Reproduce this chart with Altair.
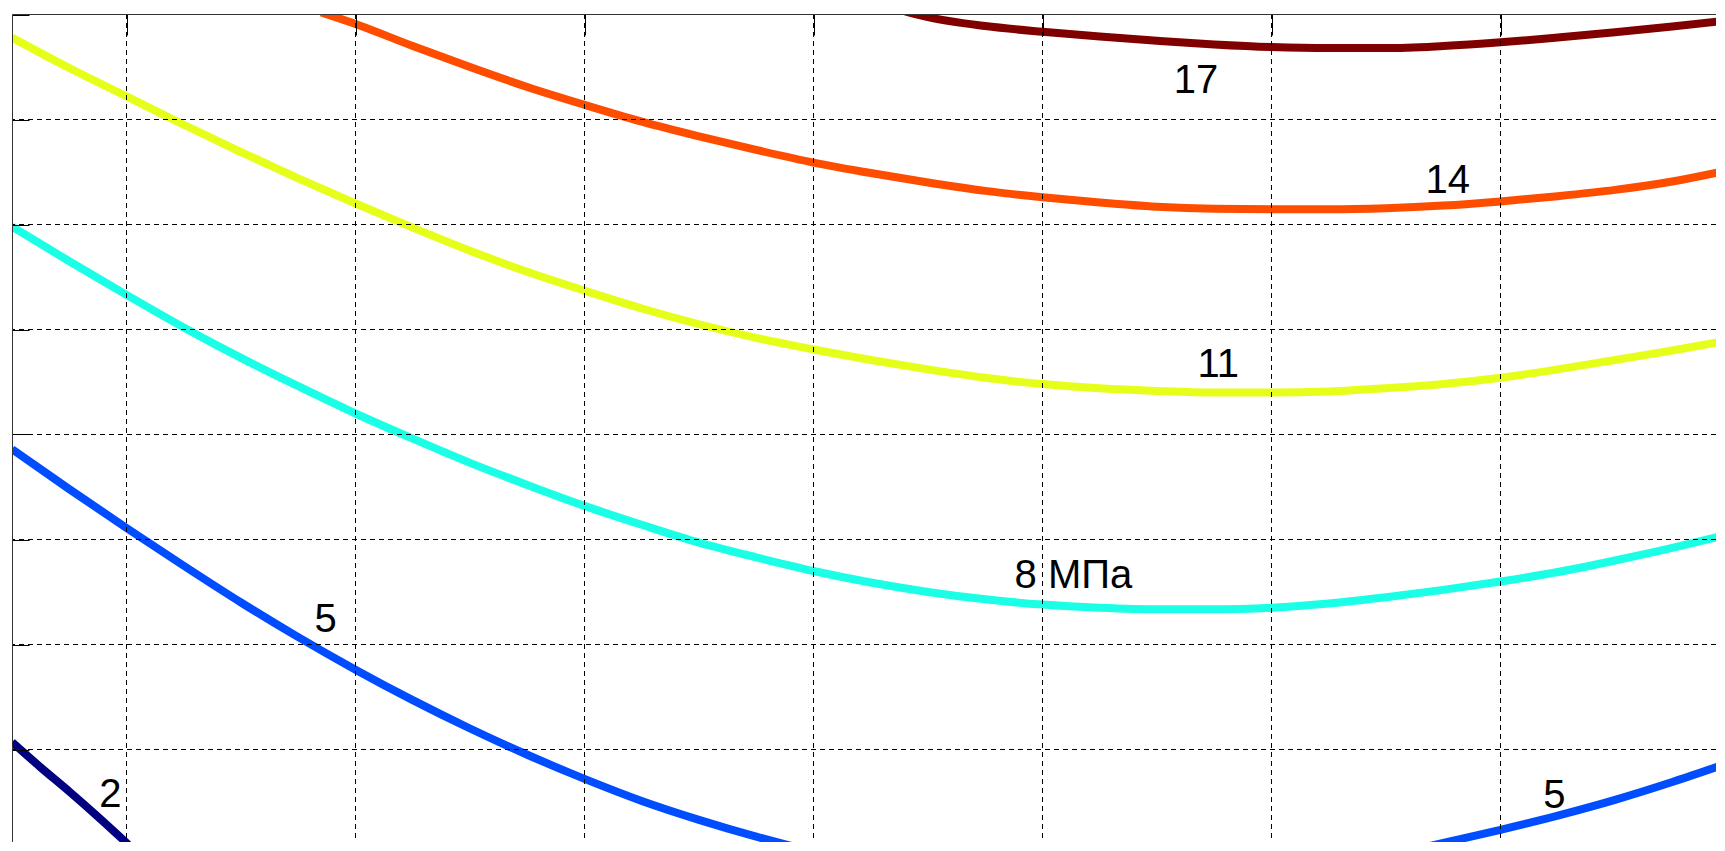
import altair as alt
import pandas as pd

# ---- contour lines (data units: grid lines at integer values) ----
lvl2_x = [0.50, 0.625, 0.75, 0.875, 1.00, 1.10]
lvl2_y = [1.07, 0.83, 0.60, 0.36, 0.11, -0.10]

lvl5a_x = [0.50, 0.75, 1.00, 1.25, 1.50, 1.75, 2.00, 2.25, 2.50, 2.75, 3.00,
           3.25, 3.50, 3.75, 4.00, 4.10]
lvl5a_y = [3.86, 3.48, 3.11, 2.75, 2.40, 2.07, 1.76, 1.47, 1.20, 0.95, 0.72,
           0.51, 0.33, 0.17, 0.03, -0.02]

lvl5b_x = [6.45, 6.75, 7.00, 7.25, 7.50, 7.75, 7.98]
lvl5b_y = [-0.04, 0.11, 0.235, 0.37, 0.52, 0.69, 0.86]

lvl8_x = [0.50, 0.75, 1.00, 1.25, 1.50, 1.75, 2.00, 2.25, 2.50, 2.75, 3.00,
          3.25, 3.50, 3.75, 4.00, 4.25, 4.50, 4.75, 5.00, 5.25, 5.50, 5.75,
          6.00, 6.25, 6.50, 6.75, 7.00, 7.25, 7.50, 7.75, 7.98]
lvl8_y = [5.98, 5.65, 5.33, 5.02, 4.73, 4.46, 4.20, 3.96, 3.73, 3.52, 3.32,
          3.14, 2.97, 2.83, 2.70, 2.59, 2.50, 2.43, 2.38, 2.35, 2.335, 2.335,
          2.35, 2.39, 2.45, 2.52, 2.60, 2.69, 2.80, 2.92, 3.04]

lvl11_x = [0.50, 0.75, 1.00, 1.25, 1.50, 1.75, 2.00, 2.25, 2.50, 2.75, 3.00,
           3.25, 3.50, 3.75, 4.00, 4.25, 4.50, 4.75, 5.00, 5.25, 5.50, 5.75,
           6.00, 6.25, 6.50, 6.75, 7.00, 7.25, 7.50, 7.75, 7.98]
lvl11_y = [7.78, 7.49, 7.22, 6.95, 6.69, 6.44, 6.20, 5.97, 5.75, 5.55, 5.37,
           5.20, 5.05, 4.92, 4.81, 4.71, 4.62, 4.54, 4.48, 4.44, 4.415, 4.40,
           4.40, 4.41, 4.44, 4.48, 4.54, 4.62, 4.71, 4.80, 4.89]

lvl14_x = [1.85, 2.00, 2.25, 2.50, 2.75, 3.00, 3.25, 3.50, 3.75, 4.00, 4.25,
           4.50, 4.75, 5.00, 5.25, 5.50, 5.75, 6.00, 6.25, 6.50, 6.75, 7.00,
           7.25, 7.50, 7.75, 7.98]
lvl14_y = [8.02, 7.91, 7.70, 7.50, 7.31, 7.14, 6.98, 6.84, 6.71, 6.59, 6.49,
           6.40, 6.32, 6.26, 6.21, 6.17, 6.15, 6.145, 6.145, 6.155, 6.18, 6.22,
           6.27, 6.33, 6.41, 6.51]

lvl17_x = [4.40, 4.50, 4.75, 5.00, 5.25, 5.50, 5.75, 6.00, 6.25, 6.50, 6.75,
           7.00, 7.25, 7.50, 7.75, 7.98]
lvl17_y = [8.03, 7.975, 7.89, 7.835, 7.79, 7.75, 7.715, 7.69, 7.68, 7.68, 7.70,
           7.735, 7.78, 7.83, 7.885, 7.94]

seg_names = ["2", "5a", "5b", "8", "11", "14", "17"]
seg_colors = ["#000080", "#004DFF", "#004DFF", "#1AFFE6", "#E6FF1A", "#FF4D00", "#800000"]
seg_xs = [lvl2_x, lvl5a_x, lvl5b_x, lvl8_x, lvl11_x, lvl14_x, lvl17_x]
seg_ys = [lvl2_y, lvl5a_y, lvl5b_y, lvl8_y, lvl11_y, lvl14_y, lvl17_y]

# ---- contour labels ----
label_text = ["2", "5", "5", "8 МПа", "11", "14", "17"]
label_x = [0.93, 1.87, 7.235, 5.135, 5.767, 6.77, 5.67]
label_y = [0.57, 2.23, 0.56, 2.656, 4.66, 6.41, 7.37]

# ---- grid / tick positions ----
grid_x = [1, 2, 3, 4, 5, 6, 7]
grid_y = [1, 2, 3, 4, 5, 6, 7]
tick_y = [1, 2, 3, 4, 5, 6, 7, 8]

# ---- build tables ----
rows = []
for name, xs_, ys_ in zip(seg_names, seg_xs, seg_ys):
    for i, (a, b) in enumerate(zip(xs_, ys_)):
        rows.append({"seg": name, "ord": i, "x": a, "y": b})
df = pd.DataFrame(rows)
df_lab = pd.DataFrame({"t": label_text, "x": label_x, "y": label_y})
df_gx = pd.DataFrame({"gx": grid_x})
df_gy = pd.DataFrame({"gy": grid_y})

W, H = 1704, 828
PXX, PXY = 229.0, 105.0
XD = [0.5, 0.5 + W / PXX]
y_top = 8 + 0.5 / PXY
YD = [y_top - H / PXY, y_top]

xsc = alt.Scale(domain=XD, nice=False, zero=False)
ysc = alt.Scale(domain=YD, nice=False, zero=False)

x_axis = alt.Axis(orient="bottom", offset=-H, values=grid_x, labels=False, title="",
                  grid=False, tickSize=21, tickColor="black", tickWidth=1,
                  domainColor="#333333", domainWidth=1, zindex=2)
y_axis = alt.Axis(orient="right", offset=-W, values=tick_y, labels=False, title="",
                  grid=False, tickSize=17, tickColor="black", tickWidth=1,
                  domainColor="#333333", domainWidth=1, zindex=2)

lines = alt.Chart(df).mark_line(
    strokeWidth=8, clip=True, interpolate="monotone", strokeCap="butt", strokeJoin="round"
).encode(
    x=alt.X("x:Q", scale=xsc, axis=x_axis),
    y=alt.Y("y:Q", scale=ysc, axis=y_axis),
    color=alt.Color("seg:N", scale=alt.Scale(domain=seg_names, range=seg_colors), legend=None),
    detail="seg:N",
    order="ord:Q",
)

vgrid = alt.Chart(df_gx).mark_rule(color="black", strokeWidth=1, strokeDash=[5, 4]).encode(
    x=alt.X("gx:Q", scale=xsc, axis=x_axis, title="")
)
hgrid = alt.Chart(df_gy).mark_rule(color="black", strokeWidth=1, strokeDash=[5, 4]).encode(
    y=alt.Y("gy:Q", scale=ysc, axis=y_axis, title="")
)

labels = alt.Chart(df_lab).mark_text(
    font="Liberation Sans", fontSize=40, color="black", align="center", baseline="middle"
).encode(
    x=alt.X("x:Q", scale=xsc, axis=x_axis),
    y=alt.Y("y:Q", scale=ysc, axis=y_axis),
    text="t:N",
)

chart = alt.layer(lines, vgrid, hgrid, labels).properties(
    width=W, height=H,
    padding={"left": 4, "top": 6, "right": 0, "bottom": 0},
    autosize=alt.AutoSizeParams(type="none"),
).configure_view(strokeWidth=0)

chart.save("out.html", embed_options={"renderer": "svg", "actions": False})
